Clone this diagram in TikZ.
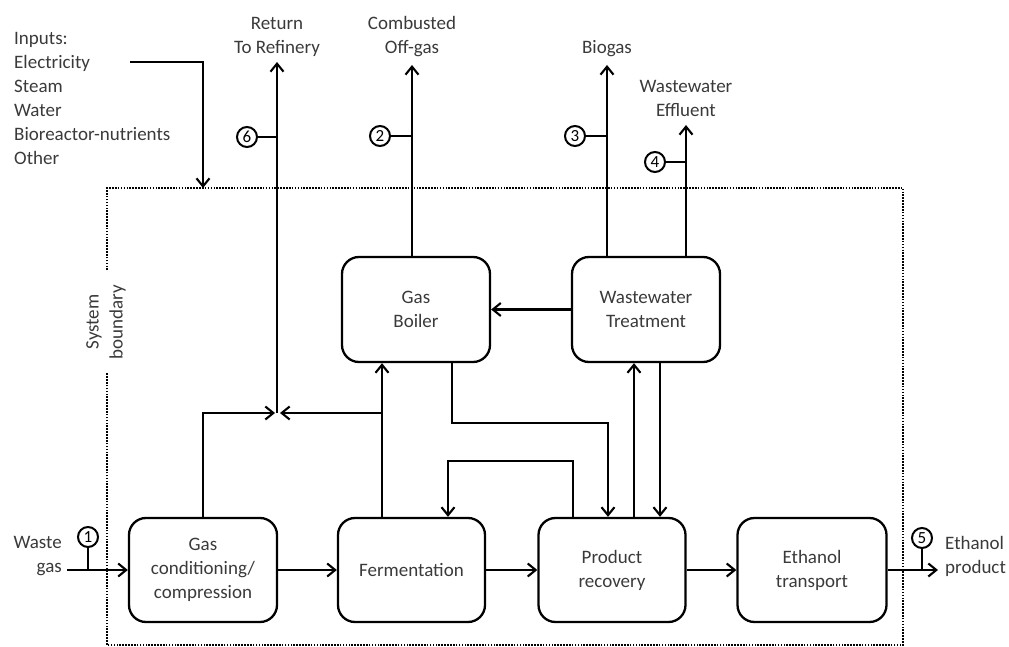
\documentclass[tikz,border=0pt]{standalone}
\usepackage{fontspec}
\setmainfont{Carlito}
\usetikzlibrary{arrows.meta}
\definecolor{txt}{HTML}{3A3A3A}
\tikzset{
  box/.style={draw, line width=2.3pt, rounded corners=17pt, minimum width=148pt, minimum height=104pt, align=center, text=txt, font=\fontsize{19}{24}\selectfont},
  arr/.style={line width=2.3pt, -{Straight Barb[length=8pt,width=13pt,line width=2.1pt]}},
  ln/.style={line width=2.3pt},
  num/.style={draw, circle, line width=2pt, minimum size=20pt, inner sep=0pt, font=\fontsize{17}{17}\selectfont, text=black},
  lbl/.style={text=txt, font=\fontsize{19}{24}\selectfont, align=center, inner sep=0pt},
  bnd/.style={line width=1.8pt, dash pattern=on 1.6pt off 1.3pt}
}
\begin{document}
\begin{tikzpicture}[x=1pt,y=-1pt]
\useasboundingbox (0,0) rectangle (1009,647);
% boxes
\node[box] (gc) at (203,570) {Gas\\conditioning/\\compression};
\node[box, minimum width=147pt] (fer) at (411.5,570) {Fermentation};
\node[box, minimum width=147pt] (pr) at (612,570) {Product\\recovery};
\node[box, minimum width=149pt] (et) at (812,570) {Ethanol\\transport};
\node[box, minimum height=105pt] (gb) at (416,309.5) {Gas\\Boiler};
\node[box, minimum height=105pt] (wwt) at (646,309.5) {Wastewater\\Treatment};
% system boundary
\coordinate (bTL) at (107,188);
\coordinate (bTR) at (903,188);
\coordinate (bBR) at (903,645);
\coordinate (bBL) at (107,645);
\coordinate (bG1) at (107,270);
\coordinate (bG2) at (107,373);
\draw[bnd] (bG1) -- (bTL) -- (bTR) -- (bBR) -- (bBL) -- (bG2);
\node[lbl, rotate=90] (sb) at (106,322) {System\\boundary};
% labels
\node[lbl, anchor=south] (lret) at (277,57) {Return\\To Refinery};
\node[lbl, anchor=south] (lcomb) at (412,57) {Combusted\\Off-gas};
\node[lbl, anchor=south] (lbio) at (607,57) {Biogas};
\node[lbl, anchor=south] (leff) at (686,117) {Wastewater\\Effluent};
\node[lbl, align=right, anchor=east] (lwaste) at (62,556) {Waste\\gas};
\node[lbl, align=left, anchor=west] (leth) at (945,556) {Ethanol\\product};
\node[lbl, align=left, anchor=north west] (linp) at (14,32) {Inputs:\\Electricity\\Steam\\Water\\Bioreactor-nutrients\\Other};
% coordinates
\coordinate (rj) at (277,413);
\coordinate (rt) at (277,62);
\coordinate (ct) at (412,65);
\coordinate (bt) at (607,65);
\coordinate (eft) at (686,125);
\coordinate (f1) at (382,0);
\coordinate (b1) at (452,423);
\coordinate (b2) at (608,423);
\coordinate (p1) at (573,461);
\coordinate (p2) at (448,461);
\coordinate (u1) at (634,0);
\coordinate (d1) at (660,0);
\coordinate (wg) at (67,570);
\coordinate (ep) at (938,570);
\coordinate (in0) at (130,62);
\coordinate (in1) at (203,62);
% main flow
\draw[arr] (wg) -- (gc.west);
\draw[arr] (gc.east) -- (fer.west);
\draw[arr] (fer.east) -- (pr.west);
\draw[arr] (pr.east) -- (et.west);
\draw[arr] (et.east) -- (ep);
% inputs
\draw[arr] (in0) -- (in1) -- (in1 |- bTL);
% return to refinery
\draw[arr] (gc.north) |- ([xshift=-2]rj);
\draw[arr] (f1 |- fer.north) -- (f1 |- gb.south);
\draw[arr] (f1 |- rj) -- ([xshift=3]rj);
\draw[arr] (rj) -- (rt);
% boiler / wwt outputs
\draw[arr] (ct |- gb.north) -- (ct);
\draw[arr] (bt |- wwt.north) -- (bt);
\draw[arr] (eft |- wwt.north) -- (eft);
\draw[arr] (wwt.west) -- (gb.east);
% internal loops
\draw[arr] (b1 |- gb.south) -- (b1) -- (b2) -- (b2 |- pr.north);
\draw[arr] (p1 |- pr.north) -- (p1) -- (p2) -- (p2 |- fer.north);
\draw[arr] (u1 |- pr.north) -- (u1 |- wwt.south);
\draw[arr] (d1 |- wwt.south) -- (d1 |- pr.north);
% numbered points
\node[num] (n1) at (88,537) {1};
\node[num] (n2) at (380,136) {2};
\node[num] (n3) at (575,136) {3};
\node[num] (n4) at (655,162) {4};
\node[num] (n5) at (922,538) {5};
\node[num] (n6) at (247,137) {6};
\draw[ln] (n1.south) -- (n1 |- wg);
\draw[ln] (n5.south) -- (n5 |- ep);
\draw[ln] (n6.east) -- (n6 -| rt);
\draw[ln] (n2.east) -- (n2 -| ct);
\draw[ln] (n3.east) -- (n3 -| bt);
\draw[ln] (n4.east) -- (n4 -| eft);
\end{tikzpicture}
\end{document}
